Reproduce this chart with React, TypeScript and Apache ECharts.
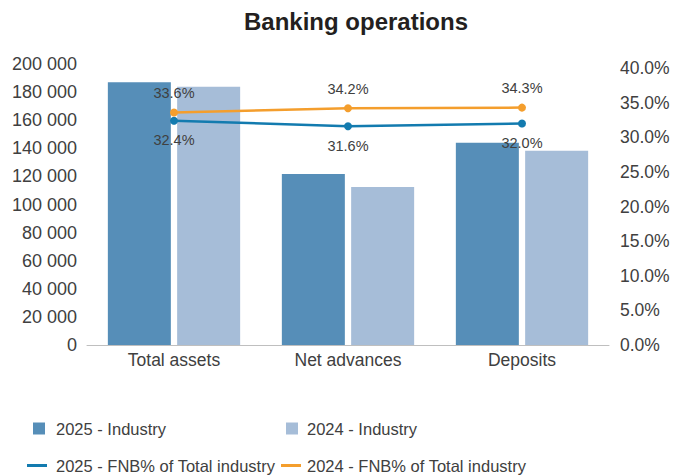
import React, { useEffect, useRef } from "react";
import * as echarts from "echarts";

const categories = ["Total assets", "Net advances", "Deposits"];
const industry2025 = [187000, 121700, 144000];
const industry2024 = [183800, 112500, 138300];
const fnbShare2025 = [32.4, 31.6, 32.0];
const fnbShare2024 = [33.6, 34.2, 34.3];

const seriesNames = [
  "2025 - Industry",
  "2024 - Industry",
  "2025 - FNB% of Total industry",
  "2024 - FNB% of Total industry",
];

const C_BAR25 = "#568EB8";
const C_BAR24 = "#A6BDD8";
const C_LINE25 = "#137BAF";
const C_LINE24 = "#F49E2D";
const FONT = "'Liberation Sans', Arial, Helvetica, sans-serif";
const TXT = "#404040";

function fmtThousands(v: number): string {
  return String(Math.round(v)).replace(/\B(?=(\d{3})+(?!\d))/g, " ");
}

export default function App() {
  const ref = useRef<HTMLDivElement>(null);
  useEffect(() => {
    if (!ref.current) return;
    const chart = echarts.init(ref.current, undefined, { renderer: "svg" });
    const legendBase = {
      orient: "horizontal" as const,
      itemGap: 0,
      padding: 0,
      textStyle: { fontFamily: FONT, fontSize: 16.5, color: TXT },
    };
    chart.setOption({
      animation: false,
      backgroundColor: "#ffffff",
      textStyle: { fontFamily: FONT },
      title: {
        text: "Banking operations",
        left: 244,
        top: 9,
        padding: 0,
        textStyle: { fontFamily: FONT, fontSize: 24, fontWeight: "bold", color: "#231F20" },
      },
      legend: [
        {
          ...legendBase,
          left: 33,
          top: 420,
          itemWidth: 12,
          itemHeight: 12,
          icon: "rect",
          data: [seriesNames[0]],
          textStyle: { ...legendBase.textStyle, padding: [0, 0, 0, 6] },
        },
        {
          ...legendBase,
          left: 286,
          top: 420,
          itemWidth: 12,
          itemHeight: 12,
          icon: "rect",
          data: [seriesNames[1]],
          textStyle: { ...legendBase.textStyle, padding: [0, 0, 0, 4] },
        },
        {
          ...legendBase,
          left: 27,
          top: 457,
          itemWidth: 20,
          itemHeight: 3,
          icon: "rect",
          data: [seriesNames[2]],
          textStyle: { ...legendBase.textStyle, padding: [0, 0, 0, 4] },
        },
        {
          ...legendBase,
          left: 281,
          top: 457,
          itemWidth: 20,
          itemHeight: 3,
          icon: "rect",
          data: [seriesNames[3]],
          textStyle: { ...legendBase.textStyle, padding: [0, 0, 0, 1] },
        },
      ],
      grid: { left: 87, right: 67, top: 64, bottom: 130, containLabel: false },
      xAxis: {
        type: "category",
        data: categories,
        axisLine: { show: true, lineStyle: { color: "#BFBFBF", width: 1 } },
        axisTick: { show: false },
        axisLabel: { fontFamily: FONT, fontSize: 17.5, color: TXT, margin: 6 },
      },
      yAxis: [
        {
          type: "value",
          min: 0,
          max: 200000,
          interval: 20000,
          splitLine: { show: false },
          axisLine: { show: false },
          axisTick: { show: false },
          axisLabel: {
            fontFamily: FONT,
            fontSize: 18,
            color: TXT,
            margin: 10,
            formatter: (v: number) => fmtThousands(v),
          },
        },
        {
          type: "value",
          min: 0,
          max: 40.6,
          interval: 5,
          position: "right",
          splitLine: { show: false },
          axisLine: { show: false },
          axisTick: { show: false },
          axisLabel: {
            fontFamily: FONT,
            fontSize: 17.5,
            color: TXT,
            margin: 11,
            showMaxLabel: false,
            formatter: (v: number) => v.toFixed(1) + "%",
          },
        },
      ],
      series: [
        {
          name: seriesNames[0],
          type: "bar",
          data: industry2025,
          barWidth: 63,
          barGap: "10%",
          itemStyle: { color: C_BAR25 },
        },
        {
          name: seriesNames[1],
          type: "bar",
          data: industry2024,
          barWidth: 63,
          barGap: "10%",
          itemStyle: { color: C_BAR24 },
        },
        {
          name: seriesNames[2],
          type: "line",
          yAxisIndex: 1,
          data: fnbShare2025,
          symbol: "circle",
          symbolSize: 8,
          lineStyle: { color: C_LINE25, width: 2.5 },
          itemStyle: { color: C_LINE25 },
          label: {
            show: true,
            position: "bottom",
            distance: 8,
            fontFamily: FONT,
            fontSize: 14.5,
            color: TXT,
            formatter: (p: any) => Number(p.value).toFixed(1) + "%",
          },
          z: 5,
        },
        {
          name: seriesNames[3],
          type: "line",
          yAxisIndex: 1,
          data: fnbShare2024,
          symbol: "circle",
          symbolSize: 8,
          lineStyle: { color: C_LINE24, width: 2.5 },
          itemStyle: { color: C_LINE24 },
          label: {
            show: true,
            position: "top",
            distance: 8,
            fontFamily: FONT,
            fontSize: 14.5,
            color: TXT,
            formatter: (p: any) => Number(p.value).toFixed(1) + "%",
          },
          z: 5,
        },
      ],
    });
    return () => chart.dispose();
  }, []);
  return <div ref={ref} style={{ width: 676, height: 475, position: "absolute", left: 0, top: 0 }} />;
}
